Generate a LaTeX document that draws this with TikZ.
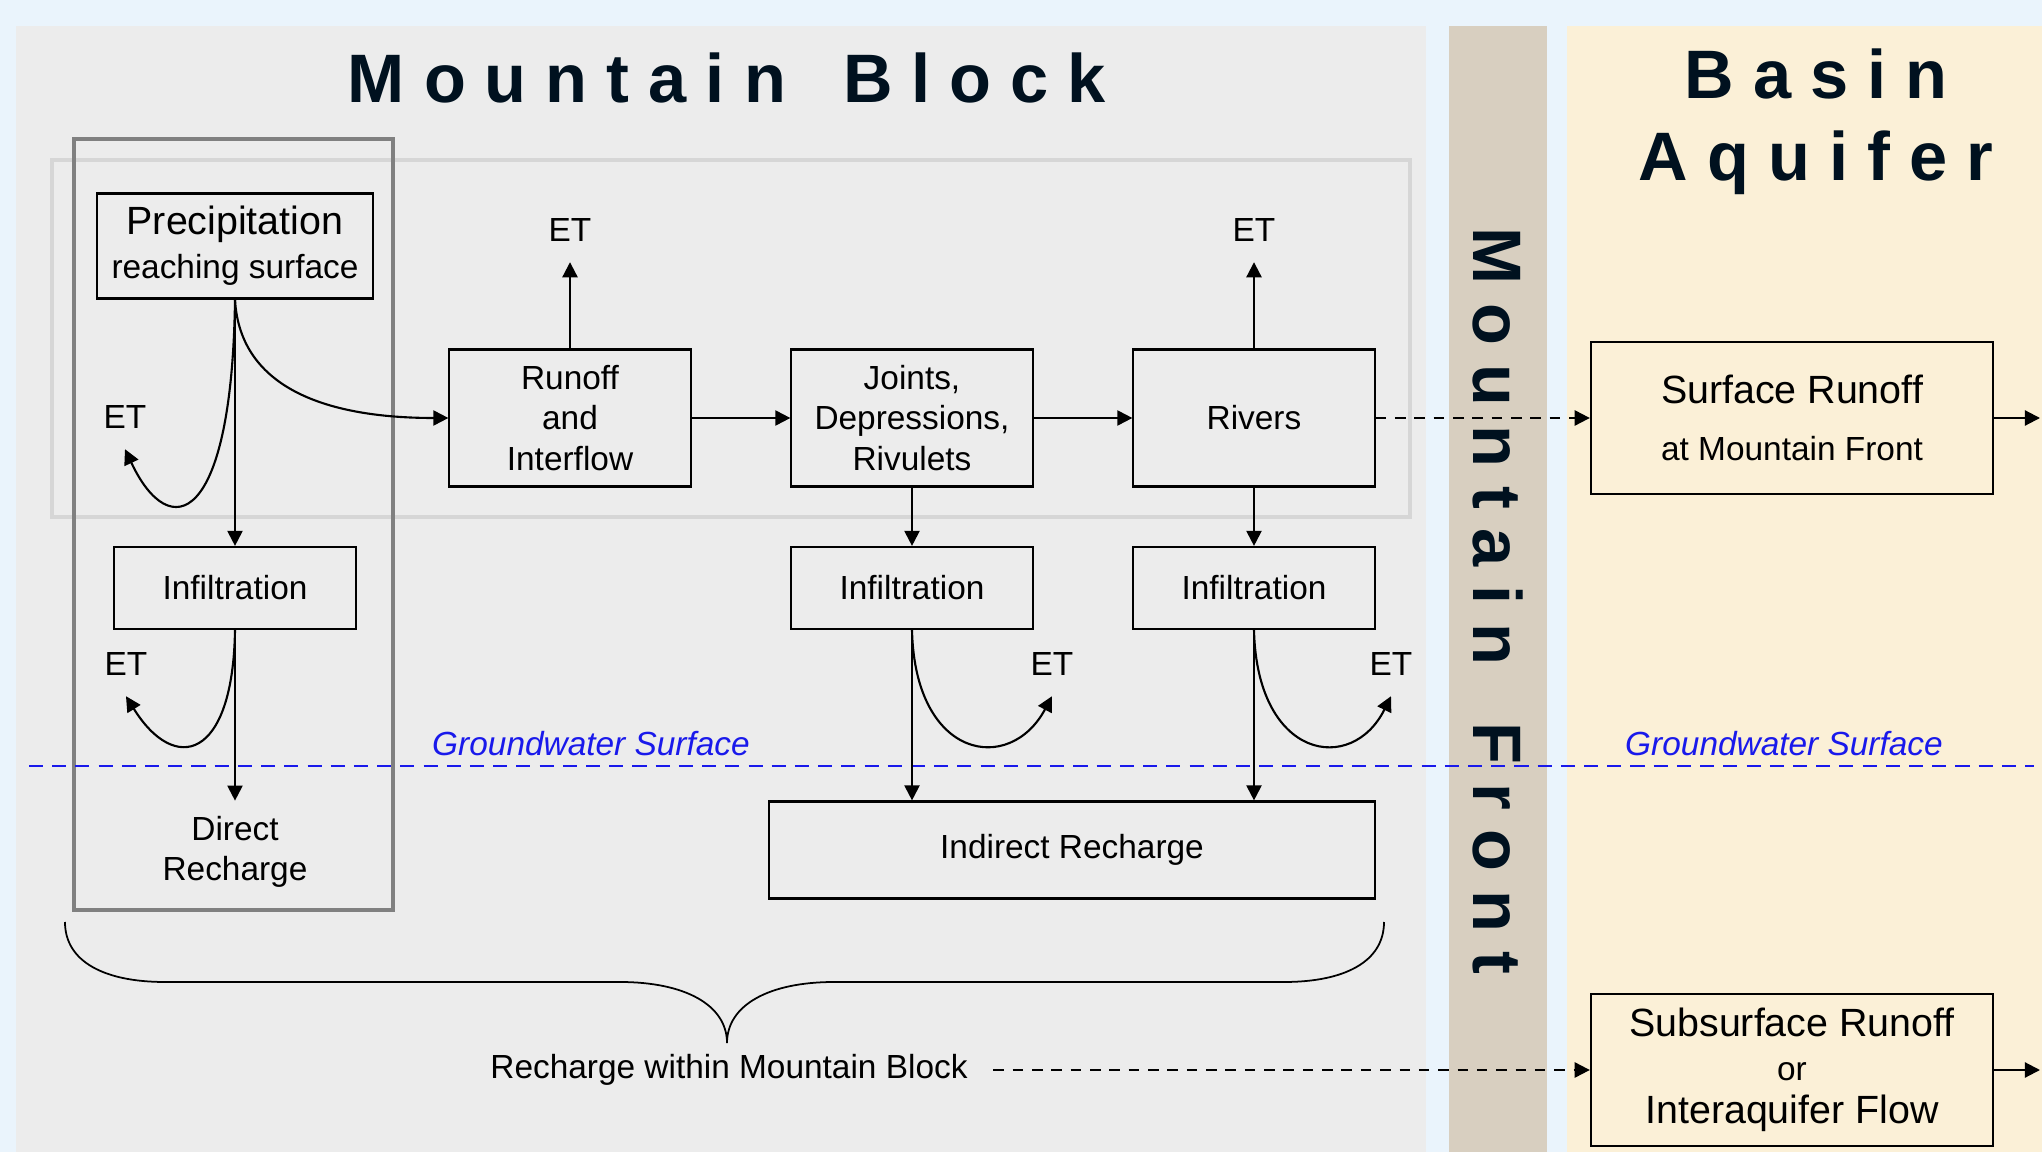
\documentclass[tikz,border=0pt]{standalone}
\usepackage{fontspec}
\setmainfont{Liberation Sans}
\usetikzlibrary{arrows.meta}
\definecolor{skyback}{HTML}{EAF4FC}
\definecolor{rockgray}{HTML}{ECECEC}
\definecolor{frontsand}{HTML}{D8CFC0}
\definecolor{basincream}{HTML}{FBF0D7}
\definecolor{titlenavy}{HTML}{00111F}
\definecolor{gwblue}{RGB}{25,25,235}
\newcommand{\bodysize}{\fontsize{9.5}{11.4}\selectfont}
\newcommand{\bigsize}{\fontsize{11.2}{12.6}\selectfont}
\begin{document}
\begin{tikzpicture}[x=0.01cm, y=-0.01cm,
		>={Triangle[length=4.3pt,width=4.3pt]},
		every node/.style={font=\bodysize},
		box/.style={draw, line width=0.6pt, align=center, inner sep=0pt, minimum width=2.41cm},
		etlabel/.style={inner sep=0.2cm},
		title/.style={text=titlenavy, font=\fontsize{19.5}{23.3}\selectfont\bfseries, align=center},
		flow/.style={->, line width=0.6pt},
		dashflow/.style={flow, dash pattern=on 3pt off 2.5pt},
		gwline/.style={gwblue, line width=0.6pt, dash pattern=on 4pt off 2.6pt},
		gwtext/.style={text=gwblue, font=\bodysize\itshape}
	]
	\useasboundingbox (0,0) rectangle (2042,1152);
	\fill [skyback] (0,0) rectangle (2042,1152);
	\fill [rockgray] (16,26) rectangle (1426,1152);
	\fill [frontsand] (1449,26) rectangle (1547,1152);
	\fill [basincream] (1567,26) rectangle (2042,1152);
	\draw [line width=1.1pt, black!16] (52,160) rectangle (1410,517);
	\draw [line width=1.4pt, black!50] (74,139) rectangle (393,910);
	\draw [gwline] (29,766) -- (2034,766);

	\node (mtnTitle) [title] at (727,78) {M o u n t a i n\ \ \ B l o c k};
	\node (basinTitle) [title] at (1816,122) {B a s i n\\A q u i f e r};
	\node (frontTitle) [title, rotate=-90] at (1498,601) {M o u n t a i n\ \ \ F r o n t};

	\node (prec) [box, minimum width=2.75cm, minimum height=1.05cm] at (235,246) {{\bigsize Precipitation}\\[1pt]reaching surface};
	\node (runoff) [box, minimum height=1.37cm] at (570,418) {Runoff\\and\\Interflow};
	\node (joints) [box, minimum height=1.37cm] at (912,418) {Joints,\\Depressions,\\Rivulets};
	\node (rivers) [box, minimum height=1.37cm] at (1254,418) {Rivers};
	\node (infilA) [box, minimum height=0.82cm] at (235,588) {Infiltration};
	\node (infilB) [box, minimum height=0.82cm] at (912,588) {Infiltration};
	\node (infilC) [box, minimum height=0.82cm] at (1254,588) {Infiltration};
	\node (direct) [inner sep=0.15cm, align=center] at (235,852) {Direct\\Recharge};
	\node (indirect) [box, minimum width=6.05cm, minimum height=0.97cm] at (1072,850) {Indirect Recharge};
	\node (surf) [box, minimum width=4.02cm, minimum height=1.52cm] at (1792,418) {{\bigsize Surface Runoff}\\[4.8pt]at Mountain Front};
	\node (subsurf) [box, minimum width=4.02cm, minimum height=1.52cm] at (1792,1070) {{\bigsize Subsurface Runoff}\\[1pt]or\\[1pt]{\bigsize Interaquifer Flow}};
	\node (rechargeMB) [inner sep=0.25cm] at (729,1070) {Recharge within Mountain Block};
	\node (gwLeft) [gwtext] at (591,744) {Groundwater Surface};
	\node (gwRight) [gwtext] at (1784,744) {Groundwater Surface};

	\node (etP) [etlabel] at (125,417) {ET};
	\node (etR) [etlabel] at (570,230) {ET};
	\node (etV) [etlabel] at (1254,230) {ET};
	\node (etA) [etlabel] at (126,664) {ET};
	\node (etB) [etlabel] at (1052,664) {ET};
	\node (etC) [etlabel] at (1391,664) {ET};
	\coordinate (surfOut) at (2040,418);
	\coordinate (subOut) at (2040,1070);

	\draw [flow] (prec.south) -- (infilA.north);
	\draw [flow] (prec.south) .. controls (240,390) and (330,418) .. (runoff.west);
	\draw [flow] (prec.south) .. controls (232,525) and (170,545) .. (etP.south);
	\draw [flow] (runoff.north) -- (etR.south);
	\draw [flow] (rivers.north) -- (etV.south);
	\draw [flow] (runoff) -- (joints);
	\draw [flow] (joints) -- (rivers);
	\draw [dashflow] (rivers) -- (surf);
	\draw [flow] (surf) -- (surfOut);
	\draw [flow] (joints) -- (infilB);
	\draw [flow] (rivers) -- (infilC);
	\draw [flow] (infilA) -- (direct);
	\draw [flow] (infilA.south) .. controls (233,760) and (175,775) .. (etA.south);
	\draw [flow] (infilB.south) -- (infilB.south |- indirect.north);
	\draw [flow] (infilB.south) .. controls (915,760) and (1010,775) .. (etB.south);
	\draw [flow] (infilC.south) -- (infilC.south |- indirect.north);
	\draw [flow] (infilC.south) .. controls (1257,760) and (1352,775) .. (etC.south);
	\draw [line width=0.5pt] (65,922) .. controls (65,962) and (105,982) .. (165,982) -- (620,982) .. controls (685,982) and (727,1005) .. (727,1043) .. controls (727,1005) and (769,982) .. (834,982) -- (1284,982) .. controls (1344,982) and (1384,962) .. (1384,922);
	\draw [dashflow] (rechargeMB.east) -- (rechargeMB.east -| subsurf.west);
	\draw [flow] (subsurf) -- (subOut);
\end{tikzpicture}
\end{document}
